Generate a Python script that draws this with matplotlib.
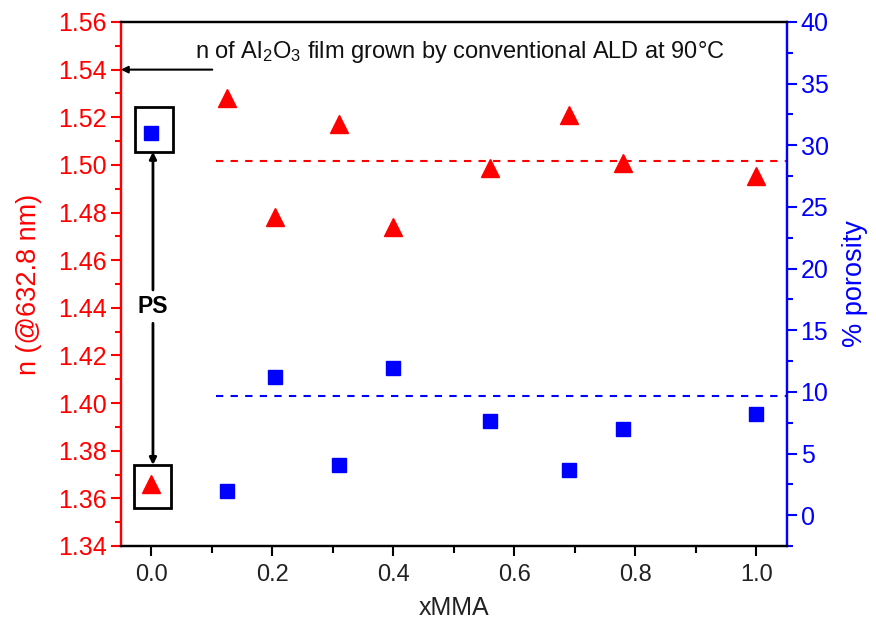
import matplotlib
matplotlib.use("Agg")
import matplotlib.pyplot as plt
from matplotlib.ticker import MultipleLocator
from matplotlib.patches import Rectangle

plt.rcParams["font.family"] = ["Liberation Sans", "DejaVu Sans"]
plt.rcParams["mathtext.fontset"] = "custom"
plt.rcParams["mathtext.rm"] = "Liberation Sans"
plt.rcParams["mathtext.it"] = "Liberation Sans"

# data
x_mma = [0.0, 0.125, 0.205, 0.31, 0.40, 0.56, 0.69, 0.78, 1.0]
n_index = [1.366, 1.528, 1.478, 1.517, 1.474, 1.4985, 1.521, 1.501, 1.4955]
porosity = [31.0, 2.0, 11.2, 4.1, 11.9, 7.6, 3.7, 7.0, 8.2]
n_mean = 1.5015
porosity_mean = 9.65
n_ald = 1.54

red = "#ff0000"
blue = "#0000ff"

fig = plt.figure(figsize=(8.76, 6.23), dpi=100)
ax = fig.add_axes([0.138, 0.1236, 0.76, 0.8411])
ax2 = ax.twinx()

# refractive index (left axis)
ax.plot(x_mma, n_index, ls="none", marker="^", ms=13, color=red, zorder=3)
ax.plot([0.107, 1.05], [n_mean, n_mean], ls=(0, (3.5, 3.5)), lw=1.5, color=red)

# porosity (right axis)
ax2.plot(x_mma, porosity, ls="none", marker="s", ms=10.5, color=blue, zorder=3)
ax2.plot([0.107, 1.05], [porosity_mean, porosity_mean], ls=(0, (3.5, 3.5)),
         lw=1.5, color=blue)

ax.set_xlim(-0.05, 1.05)
ax.set_ylim(1.34, 1.56)
ax2.set_ylim(-2.5, 40)

ax.xaxis.set_major_locator(MultipleLocator(0.2))
ax.xaxis.set_minor_locator(MultipleLocator(0.1))
ax.yaxis.set_major_locator(MultipleLocator(0.02))
ax.yaxis.set_minor_locator(MultipleLocator(0.01))
ax2.yaxis.set_major_locator(MultipleLocator(5))
ax2.yaxis.set_minor_locator(MultipleLocator(2.5))
ax.xaxis.set_major_formatter(plt.FormatStrFormatter("%.1f"))
ax.yaxis.set_major_formatter(plt.FormatStrFormatter("%.2f"))

ax.tick_params(axis="x", which="major", direction="out", length=7, width=1.5,
               labelsize=17, colors="black", labelcolor="#222222", pad=6)
ax.tick_params(axis="x", which="minor", direction="out", length=5, width=1.5)
ax.tick_params(axis="y", which="major", direction="out", length=7, width=1.5,
               labelsize=18, colors=red, pad=3)
ax.tick_params(axis="y", which="minor", direction="out", length=4.3, width=1.5,
               colors=red)
ax2.tick_params(axis="y", which="major", direction="out", length=7, width=1.5,
                labelsize=18, colors=blue, pad=3)
ax2.tick_params(axis="y", which="minor", direction="out", length=4.3, width=1.5,
                colors=blue)

for a in (ax, ax2):
    a.spines["top"].set_color("black")
    a.spines["bottom"].set_color("black")
    a.spines["left"].set_color(red)
    a.spines["right"].set_color(blue)
    for s in a.spines.values():
        s.set_linewidth(1.6)

ax.set_xlabel("xMMA", fontsize=18, labelpad=7, color="#222222")
ax.set_ylabel("n (@632.8 nm)", fontsize=19.5, color=red, labelpad=12)
ax2.set_ylabel("% porosity", fontsize=19.5, color=blue, labelpad=10)

# annotation for ALD reference index
ax.text(0.072, 1.5474, r"n of Al$_2$O$_3$ film grown by conventional ALD at 90°C",
        fontsize=17, va="center", ha="left", color="#111111")
ax.annotate("", xy=(-0.05, n_ald), xytext=(0.101, n_ald),
            arrowprops=dict(arrowstyle="-|>", color="black", lw=1.5,
                            mutation_scale=10, shrinkA=0, shrinkB=0),
            annotation_clip=False)

# boxes around the PS points
ax.add_patch(Rectangle((-0.0264, 1.5055), 0.0621, 0.0187, fill=False,
                       ec="black", lw=2, zorder=4))
ax.add_patch(Rectangle((-0.0276, 1.3558), 0.0606, 0.0182, fill=False,
                       ec="black", lw=2, zorder=4))

# PS double arrow
ax.text(0.003, 1.4405, "PS", fontsize=16.5, fontweight="bold", ha="center",
        va="center")
ax.annotate("", xy=(0.003, 1.5055), xytext=(0.003, 1.4475),
            arrowprops=dict(arrowstyle="-|>", color="black", lw=2,
                            mutation_scale=10, shrinkA=0, shrinkB=0))
ax.annotate("", xy=(0.003, 1.374), xytext=(0.003, 1.4335),
            arrowprops=dict(arrowstyle="-|>", color="black", lw=2,
                            mutation_scale=10, shrinkA=0, shrinkB=0))

fig.savefig("out.png", dpi=100)
